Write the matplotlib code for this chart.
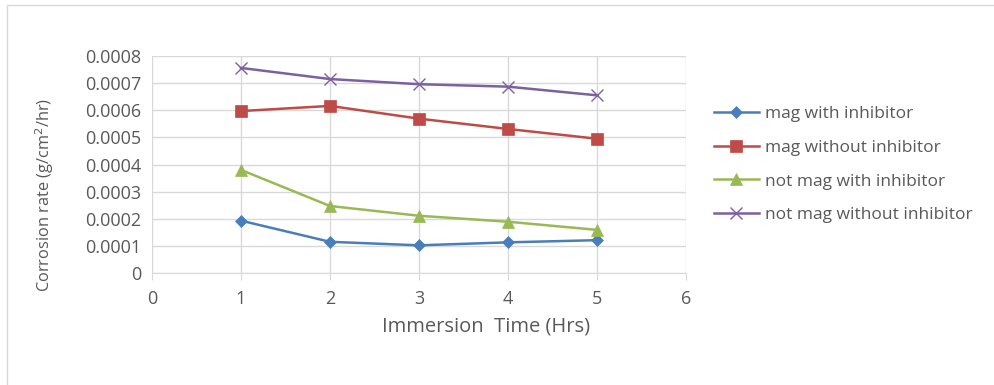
import matplotlib
matplotlib.use("Agg")
import matplotlib.pyplot as plt
from matplotlib.patches import Rectangle

x = [1, 2, 3, 4, 5]
mag_with = [0.000193, 0.000115, 0.000102, 0.000113, 0.000121]
mag_without = [0.000597, 0.000616, 0.000569, 0.000531, 0.000495]
notmag_with = [0.000380, 0.000247, 0.000211, 0.000189, 0.000159]
notmag_without = [0.000756, 0.000715, 0.000696, 0.000687, 0.000655]
labels = ["mag with inhibitor", "mag without inhibitor",
          "not mag with inhibitor", "not mag without inhibitor"]
xticks = [0, 1, 2, 3, 4, 5, 6]
yticks = [0, 0.0001, 0.0002, 0.0003, 0.0004, 0.0005, 0.0006, 0.0007, 0.0008]

plt.rcParams['font.family'] = ['Open Sans', 'DejaVu Sans']
tc = '#595959'

fig = plt.figure(figsize=(9.95, 3.85), dpi=100)
fig.patches.append(Rectangle((0.007, -0.01), 1.0, 0.998, transform=fig.transFigure,
                             fill=False, edgecolor='#d9d9d9', lw=1))
ax = fig.add_axes([152/995, 1-273/385, (686-152)/995, (273-56)/385])

styles = [
    (mag_with, '#4a7ebb', 'D', 6),
    (mag_without, '#be4b48', 's', 9),
    (notmag_with, '#98b954', '^', 9),
    (notmag_without, '#7d60a0', 'x', 9),
]
for (vals, c, m, ms), lab in zip(styles, labels):
    ax.plot(x, vals, color=c, marker=m, markersize=ms, lw=1.8, label=lab,
            markeredgewidth=1.0 if m == 'x' else 0.5, markeredgecolor=c)

ax.set_xlim(0, 6)
ax.set_ylim(0, 0.0008)
ax.set_xticks(xticks)
ax.set_yticks(yticks)
ax.set_yticklabels(['0'] + ['%.4f' % v for v in yticks[1:]])
ax.grid(True, color='#d9d9d9', lw=1)
ax.set_axisbelow(True)
for s in ['top', 'right', 'left']:
    ax.spines[s].set_visible(False)
ax.spines['bottom'].set_color('#d9d9d9')
ax.tick_params(axis='both', colors='#d9d9d9', labelcolor=tc, labelsize=13)
ax.tick_params(axis='x', length=5, pad=7)
ax.tick_params(axis='y', length=0, pad=8)
ax.set_xlabel('Immersion  Time (Hrs)', color=tc, fontsize=14.5)
ax.xaxis.set_label_coords(0.626, -0.2)
ax.set_ylabel('Corrosion rate (g/cm$^2$/hr)', color=tc, fontsize=11.8)
ax.yaxis.set_label_coords(-0.18, 0.36)

leg = fig.legend(loc='upper left', bbox_to_anchor=(698/995, 1-90/385), frameon=False,
                 fontsize=12.5, labelspacing=1.02, handlelength=2.6, handletextpad=0.35)
for t in leg.get_texts():
    t.set_color(tc)

fig.savefig('out.png', dpi=100)
